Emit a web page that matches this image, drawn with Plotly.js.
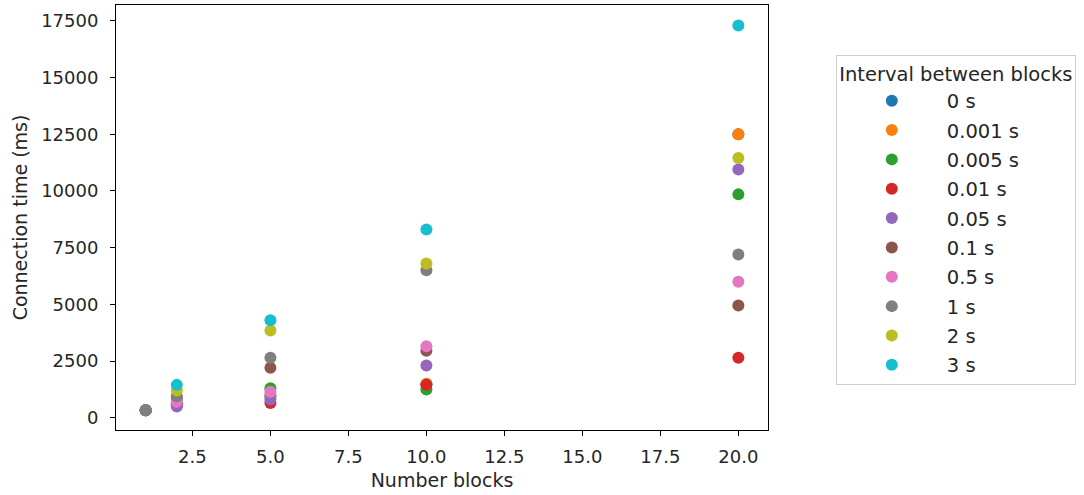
<!DOCTYPE html>
<html>
<head>
<meta charset="utf-8">
<script src="https://cdn.plot.ly/plotly-3.0.1.min.js"></script>
<style>html,body{margin:0;padding:0;background:#fff;}#chart{width:1084px;height:495px;}</style>
</head>
<body>
<div id="chart"></div>
<script>
// Number of blocks on the x axis
const xWithOne = [1, 2, 5, 10, 20];
const xFromTwo = [2, 5, 10, 20];

// Legend labels (interval between blocks)
const intervalLabels = ['0 s', '0.001 s', '0.005 s', '0.01 s', '0.05 s', '0.1 s', '0.5 s', '1 s', '2 s', '3 s'];

// Connection time (ms) per interval
const t0s    = [330, 560, 950, 1480, 12500];
const t0001s = [330, 600, 1000, 1500, 12500];
const t0005s = [330, 650, 1300, 1250, 9850];
const t001s  = [330, 600, 650, 1450, 2650];
const t005s  = [330, 500, 800, 2300, 10950];
const t01s   = [330, 850, 2200, 2950, 4950];
const t05s   = [330, 700, 1150, 3150, 6000];
const t1s    = [330, 950, 2650, 6500, 7200];
const t2s    = [1200, 3850, 6800, 11450];
const t3s    = [1450, 4300, 8300, 17300];

// Axis ticks
const xTickVals = [2.5, 5, 7.5, 10, 12.5, 15, 17.5, 20];
const xTickText = ['2.5', '5.0', '7.5', '10.0', '12.5', '15.0', '17.5', '20.0'];
const yTickVals = [0, 2500, 5000, 7500, 10000, 12500, 15000, 17500];
const yTickText = ['0', '2500', '5000', '7500', '10000', '12500', '15000', '17500'];

const seriesValues = [t0s, t0001s, t0005s, t001s, t005s, t01s, t05s, t1s, t2s, t3s];
const seriesX = [xWithOne, xWithOne, xWithOne, xWithOne, xWithOne, xWithOne, xWithOne, xWithOne, xFromTwo, xFromTwo];
const colors = ['#1f77b4', '#ff7f0e', '#2ca02c', '#d62728', '#9467bd', '#8c564b', '#e377c2', '#7f7f7f', '#bcbd22', '#17becf'];

const traces = seriesValues.map((vals, i) => ({
  type: 'scatter',
  mode: 'markers',
  x: seriesX[i],
  y: vals,
  name: intervalLabels[i],
  legendgroup: 'g' + i,
  marker: {color: colors[i], size: 12, line: {width: 0}},
  hoverinfo: 'x+y+name'
}));

const font = {family: 'DejaVu Sans, sans-serif', size: 18, color: '#262626'};

const layout = {
  width: 1084,
  height: 495,
  margin: {l: 116, r: 316, t: 5, b: 65},
  paper_bgcolor: '#fff',
  plot_bgcolor: '#fff',
  font: font,
  showlegend: true,
  xaxis: {
    range: [0.05, 20.95],
    tickvals: xTickVals,
    ticktext: xTickText,
    showgrid: false, zeroline: false,
    showline: true, mirror: true, linecolor: '#000', linewidth: 1,
    ticks: 'outside', ticklen: 5, tickcolor: '#000',
    tickfont: {size: 18},
    ticklabelstandoff: 5,
    title: {text: 'Number blocks', font: {size: 19}, standoff: 8}
  },
  yaxis: {
    range: [-540, 18200],
    tickvals: yTickVals,
    ticktext: yTickText,
    showgrid: false, zeroline: false,
    showline: true, mirror: true, linecolor: '#000', linewidth: 1,
    ticks: 'outside', ticklen: 5, tickcolor: '#000',
    tickfont: {size: 18},
    ticklabelstandoff: 8,
    title: {text: 'Connection time (ms)', font: {size: 19}, standoff: 8}
  },
  legend: {
    x: 1.104, xanchor: 'left',
    y: 0.882, yanchor: 'top',
    bordercolor: '#d0d0d0', borderwidth: 1,
    font: {size: 19.5},
    title: {text: 'Interval between blocks', side: 'top center', font: {size: 19.5}},
    traceorder: 'grouped',
    tracegroupgap: 1,
    itemwidth: 100
  }
};

Plotly.newPlot('chart', traces, layout, {staticPlot: true});
</script>
</body>
</html>
